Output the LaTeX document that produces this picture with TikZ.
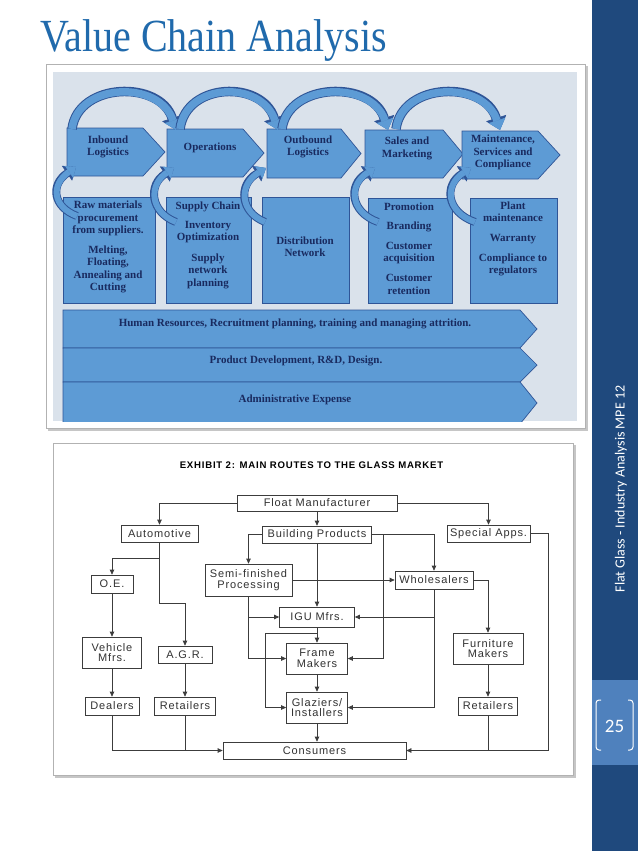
\documentclass[tikz,border=0pt]{standalone}
\usepackage{fontspec}
\setmainfont{Liberation Serif}
\newfontfamily\exfont{Liberation Sans}[LetterSpace=8.0]
\newfontfamily\calfont{Carlito}
\usetikzlibrary{arrows.meta}
\definecolor{sidebar}{RGB}{31,73,125}
\definecolor{pagebox}{RGB}{79,129,189}
\definecolor{titleblue}{RGB}{32,106,172}
\definecolor{vcbg}{RGB}{218,226,235}
\definecolor{vcfill}{RGB}{93,155,213}
\definecolor{vcedge}{RGB}{47,85,151}
\definecolor{vctext}{RGB}{25,42,95}
\definecolor{exline}{RGB}{60,60,60}
\definecolor{extext}{RGB}{50,50,50}
\newcommand\bandarrow[1]{%
  \draw[line width=9.5pt, draw=vcedge, -{Triangle[width=21pt,length=12.5pt,line width=0.5pt]}] #1;
  \draw[line width=7.5pt, draw=vcfill, -{Triangle[width=17.5pt,length=10pt,line width=0.5pt]}] #1;}
\newcommand\smallarrow[1]{%
  \draw[line width=8pt, draw=vcedge, -{Triangle[width=18pt,length=11pt,line width=0.5pt]}] #1;
  \draw[line width=6pt, draw=vcfill, -{Triangle[width=14.5pt,length=8.5pt,line width=0.5pt]}] #1;}
\begin{document}
\begin{tikzpicture}[x=1pt,y=-1pt,
  chevst/.style={fill=vcfill, draw=vcedge, line width=0.7pt},
  vctxt/.style={text=vctext, font=\bfseries\fontsize{11}{12.3}\selectfont, align=center, inner sep=0pt},
  exbox/.style={draw=exline, line width=0.7pt, fill=white, text=extext, font=\exfont\fontsize{11}{10.5}\selectfont, align=center, inner sep=0pt},
  exarr/.style={draw=exline, line width=0.7pt, -{Triangle[width=4.5pt,length=5pt]}},
  exln/.style={draw=exline, line width=0.7pt}]
\useasboundingbox (0,0) rectangle (638,851);
\fill[white] (0,0) rectangle (638,851);
% sidebar
\fill[sidebar] (592,0) rectangle (638,851);
\fill[pagebox] (592,680) rectangle (638,765);
\draw[white, line width=1pt, rounded corners=3pt] (601,700) -- (596,700) -- (596,750) -- (601,750);
\draw[white, line width=1pt, rounded corners=3pt] (628,700) -- (633,700) -- (633,750) -- (628,750);
\node[text=white, font=\calfont\fontsize{19}{19}\selectfont, inner sep=0pt] (pagenum) at (614.5,726) {25};
\node[text=white, font=\calfont\fontsize{14}{16}\selectfont, rotate=90, inner sep=0pt] (side) at (621,489) {Flat Glass - Industry Analysis MPE 12};
% title
\node[anchor=base west, inner sep=0pt, text=titleblue, font=\fontsize{40}{40}\selectfont] (title) at (40,52) {\scalebox{1}[1.15]{Value Chain Analysis}};
% top panel
\fill[gray!45] (48,66) rectangle (588,431);
\filldraw[fill=white, draw=gray!60, line width=0.6pt] (46,64) rectangle (585,428);
\fill[vcbg] (53,72) rectangle (577,421);
% boxes
\filldraw[chevst] (63,197) rectangle (155,303);
\filldraw[chevst] (166,197) rectangle (251,303);
\filldraw[chevst] (262,197) rectangle (349,303);
\filldraw[chevst] (368,198) rectangle (452,303);
\filldraw[chevst] (470,198) rectangle (557,303);
% wide chevrons
\begin{scope}
\clip (53,72) rectangle (577,421);
\filldraw[chevst] (63,310) -- (520,310) -- (537,329) -- (520,348) -- (63,348) -- cycle;
\filldraw[chevst] (63,348) -- (520,348) -- (537,365) -- (520,382) -- (63,382) -- cycle;
\filldraw[chevst] (63,382) -- (520,382) -- (537,403) -- (520,424) -- (63,424) -- cycle;
\end{scope}
% top chevrons
\filldraw[chevst] (67,128) -- (143,128) -- (165,152) -- (143,176) -- (67,176) -- cycle;
\filldraw[chevst] (167,129) -- (243,129) -- (264,153) -- (243,177) -- (167,177) -- cycle;
\filldraw[chevst] (267,129) -- (341,129) -- (361,153.5) -- (341,178) -- (267,178) -- cycle;
\filldraw[chevst] (365,130) -- (443,130) -- (463,154) -- (443,178) -- (365,178) -- cycle;
\filldraw[chevst] (462,131) -- (538,131) -- (560,155) -- (538,179) -- (462,179) -- cycle;
% big arcs
\bandarrow{(72,129) .. controls (78,82) and (160,80) .. (176,130)}
\bandarrow{(180,129) .. controls (186,82) and (262,80) .. (278,130)}
\bandarrow{(282,129) .. controls (288,82) and (372,80) .. (388,130)}
\bandarrow{(396,129) .. controls (402,82) and (484,80) .. (500,130)}
% small arrows
\smallarrow{(77,216) .. controls (53,207) and (50,185) .. (76,167)}
\smallarrow{(176,222) .. controls (150,212) and (148,185) .. (174,168)}
\smallarrow{(265,222) .. controls (240,212) and (238,185) .. (266,168)}
\smallarrow{(378,222) .. controls (350,212) and (348,185) .. (375,168)}
\smallarrow{(475,222) .. controls (446,212) and (444,185) .. (471,168)}
% texts
\node[vctxt] (t1) at (108,147) {Inbound\\Logistics};
\node[vctxt] (t2) at (210,148) {Operations};
\node[vctxt] (t3) at (308,147) {Outbound\\Logistics};
\node[vctxt] (t4) at (407,148.5) {Sales and\\Marketing};
\node[vctxt] (t5) at (503,152.5) {Maintenance,\\Services and\\Compliance};
\node[vctxt] (b1) at (108,247) {Raw materials\\procurement\\from suppliers.\\[7.7pt]Melting,\\Floating,\\Annealing and\\Cutting};
\node[vctxt] (b2) at (208,245) {Supply Chain\\[6.7pt]Inventory\\Optimization\\[8.7pt]Supply\\network\\planning};
\node[vctxt] (b3) at (305,246.5) {Distribution\\Network};
\node[vctxt] (b4) at (409,248.5) {Promotion\\[6.7pt]Branding\\[7.7pt]Customer\\acquisition\\[7.7pt]Customer\\retention};
\node[vctxt] (b5) at (513,239) {Plant\\maintenance\\[7.7pt]Warranty\\[7.7pt]Compliance to\\regulators};
\node[vctxt] (w1) at (295,324) {Human Resources, Recruitment planning, training and managing attrition.};
\node[vctxt] (w2) at (296,361) {Product Development, R\&D, Design.};
\node[vctxt] (w3) at (295,400) {Administrative Expense};
% exhibit panel
\fill[gray!45] (55,445) rectangle (576,778);
\filldraw[fill=white, draw=gray!60, line width=0.6pt] (53,443) rectangle (573,775);
\node[inner sep=0pt, text=black, font=\exfont\bfseries\fontsize{9.6}{9.6}\selectfont] (extitle) at (311.5,465) {EXHIBIT 2: MAIN ROUTES TO THE GLASS MARKET};
% nodes
\node[exbox, minimum width=160pt, minimum height=16pt] (float) at (317,503) {Float Manufacturer};
\node[exbox, minimum width=77pt, minimum height=17pt] (auto) at (159.5,533.5) {Automotive};
\node[exbox, minimum width=109pt, minimum height=17pt] (bp) at (317,534.5) {Building Products};
\node[exbox, minimum width=83pt, minimum height=17pt] (spec) at (488.5,533.5) {Special Apps.};
\node[exbox, minimum width=42pt, minimum height=18pt] (oe) at (112,584) {O.E.};
\node[exbox, minimum width=87pt, minimum height=32pt] (semi) at (248.5,580) {Semi-finished\\Processing};
\node[exbox, minimum width=78pt, minimum height=18pt] (whole) at (434,580) {Wholesalers};
\node[exbox, minimum width=75pt, minimum height=20pt] (igu) at (317,617) {IGU Mfrs.};
\node[exbox, minimum width=59pt, minimum height=31pt] (veh) at (112,652.5) {Vehicle\\Mfrs.};
\node[exbox, minimum width=54pt, minimum height=17pt] (agr) at (185,654.5) {A.G.R.};
\node[exbox, minimum width=61pt, minimum height=31pt] (frame) at (317,658.5) {Frame\\Makers};
\node[exbox, minimum width=70pt, minimum height=31pt] (furn) at (488,648.5) {Furniture\\Makers};
\node[exbox, minimum width=54pt, minimum height=18pt] (dealers) at (112,706) {Dealers};
\node[exbox, minimum width=61pt, minimum height=18pt] (retl) at (185,706) {Retailers};
\node[exbox, minimum width=61pt, minimum height=31pt] (glaz) at (317,707.5) {Glaziers/\\Installers};
\node[exbox, minimum width=59pt, minimum height=18pt] (retr) at (488,706) {Retailers};
\node[exbox, minimum width=183pt, minimum height=17pt] (cons) at (314.5,750.5) {Consumers};
\coordinate (j1) at (159.5,558);
\coordinate (j2) at (159.5,603);
\coordinate (j3) at (317,633);
\coordinate (j4) at (265,633);
\coordinate (v1) at (383,534.5);
\coordinate (k) at (548,533.5);
% connectors
\draw[exarr] (float.west) -| (auto.north);
\draw[exarr] (float.south) -- (bp.north);
\draw[exarr] (float.east) -| (spec.north);
\draw[exln] (auto.south) -- (j1);
\draw[exarr] (j1) -| (oe.north);
\draw[exarr] (j1) -- (j2) -| (agr.north);
\draw[exarr] (oe.south) -- (veh.north);
\draw[exarr] (veh.south) -- (dealers.north);
\draw[exarr] (agr.south) -- (retl.north);
\draw[exarr] (dealers.south) |- (cons.west);
\draw[exln] (retl.south) -- (retl.south |- cons.west);
\draw[exarr] (bp.west) -| (semi.north);
\draw[exarr] (bp.south) -- (igu.north);
\draw[exarr] (bp.east) -| (whole.north);
\draw[exarr] (v1) |- (frame.east);
\draw[exarr] (semi.east) -- (whole.west);
\draw[exarr] (semi.south) |- (igu.west);
\draw[exarr] (semi.south) |- (frame.west);
\draw[exarr] (igu.south) -- (frame.north);
\draw[exarr] (j3) -- (j4) |- (glaz.west);
\draw[exarr] (frame.south) -- (glaz.north);
\draw[exarr] (glaz.south) -- (glaz.south |- cons.north);
\draw[exarr] (whole.south) |- (igu.east);
\draw[exarr] (whole.south) |- (glaz.east);
\draw[exarr] (whole.east) -| (furn.north);
\draw[exarr] (furn.south) -- (retr.north);
\draw[exarr] (spec.east) -- (k) |- (cons.east);
\draw[exln] (retr.south) -- (retr.south |- cons.east);
\end{tikzpicture}
\end{document}
